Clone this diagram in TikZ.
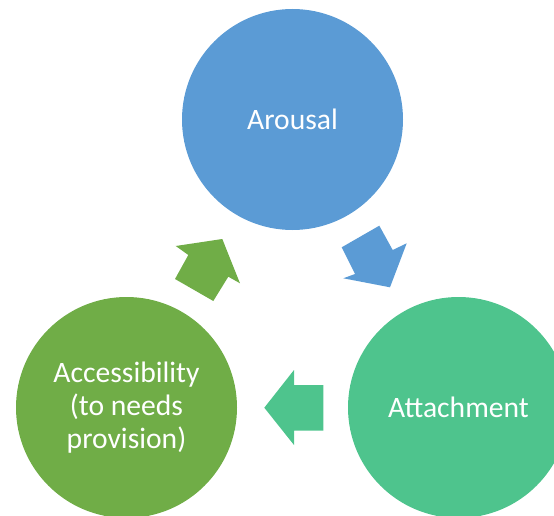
\documentclass[tikz,border=0pt]{standalone}
\usepackage{fontspec}
\setmainfont{Carlito}
\definecolor{cblue}{HTML}{5B9BD5}
\definecolor{cgreen}{HTML}{70AD47}
\definecolor{cteal}{HTML}{4EC48D}
\tikzset{
  bubble/.style={circle, minimum size=221pt, inner sep=0pt, text=white,
    font=\fontsize{29.6}{33}\selectfont, align=center},
}
\begin{document}
\begin{tikzpicture}[x=1pt,y=-1pt]
\useasboundingbox (0,0) rectangle (554,516);
\begin{scope}
\clip (0,0) rectangle (554,516);
\node[bubble, fill=cblue] (arousal) at (292.5,119.5) {Arousal};
\node[bubble, fill=cteal] (attach) at (458.5,407.5) {Attachment};
\node[bubble, fill=cgreen] (access) at (126.5,407.5) {Accessibility\\(to needs\\provision)};
\end{scope}
% block arrows
\fill[cblue] (341.7,247.3) -- (379.3,225.7) -- (392.7,250) -- (406.7,243.3)
  -- (390,287.3) -- (343.3,278.3) -- (355,274) -- cycle;
\fill[cteal] (323.3,385) -- (294,385) -- (294,370) -- (264.3,407.7)
  -- (294,445) -- (294,430.7) -- (323.3,430.7) -- cycle;
\fill[cgreen] (175,279) -- (188.3,255) -- (175.7,246) -- (222.3,239)
  -- (240,283.3) -- (228.3,276.7) -- (213.3,301) -- cycle;
\end{tikzpicture}
\end{document}
